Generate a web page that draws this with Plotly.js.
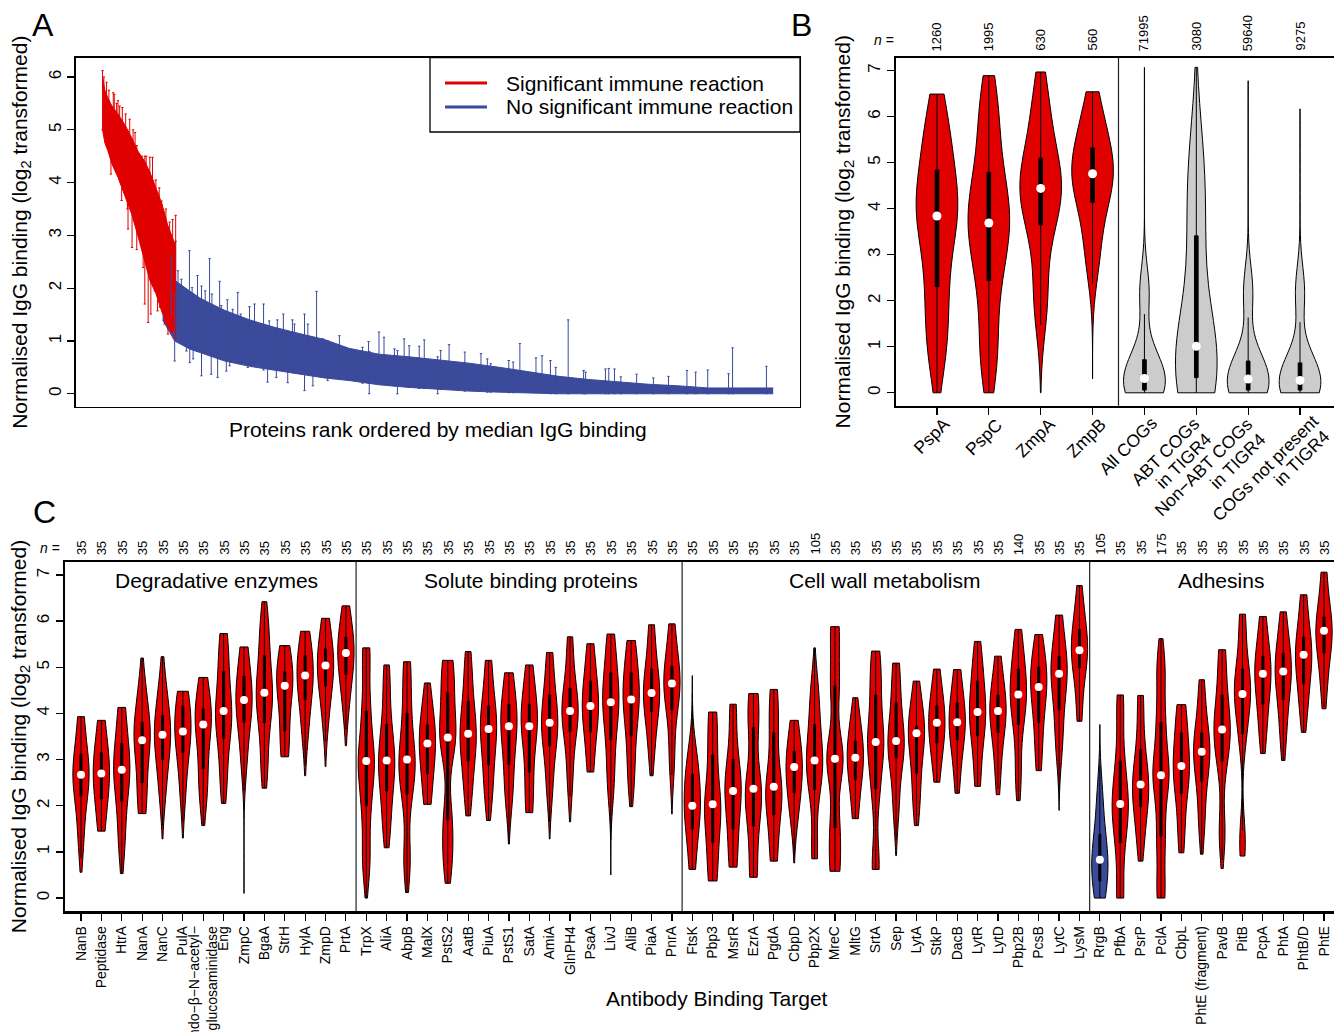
<!DOCTYPE html>
<html>
<head>
<meta charset="utf-8">
<script src="https://cdn.plot.ly/plotly-3.0.1.min.js"></script>
<style>html,body{margin:0;padding:0;overflow:hidden;background:#fff}</style>
</head>
<body>
<div id="chart" style="width:1342px;height:1032px"></div>
<script>
// ---------------- Panel A data (rank-ordered proteins) ----------------
const redRank = [1, 8, 17, 29, 47, 67, 88, 106, 127, 142, 160, 178, 195, 207, 219];
const redHi   = [6.0, 5.75, 5.6, 5.45, 5.3, 5.1, 4.85, 4.6, 4.4, 4.2, 3.9, 3.6, 3.2, 3.0, 2.8];
const redLo   = [5.0, 4.75, 4.6, 4.35, 4.1, 3.75, 3.4, 3.0, 2.5, 2.15, 1.9, 1.55, 1.3, 1.15, 1.2];

const blueRank = [180, 216, 260, 290, 320, 365, 439, 513, 588, 662, 736, 825, 915, 1004, 1093, 1185, 1272, 1361, 1451, 1540, 1629, 1718, 1807, 1896, 2000];
const blueHi   = [2.5, 2.15, 1.95, 1.82, 1.72, 1.58, 1.4, 1.26, 1.14, 1.03, 0.86, 0.75, 0.7, 0.64, 0.58, 0.5, 0.42, 0.33, 0.27, 0.22, 0.18, 0.15, 0.11, 0.11, 0.11];
const blueLo   = [1.4, 1.0, 0.85, 0.78, 0.72, 0.62, 0.52, 0.45, 0.38, 0.3, 0.25, 0.17, 0.12, 0.08, 0.05, 0.03, 0.01, 0, 0, 0, 0, 0, 0, 0, 0];

const redSpikeRank = [1, 5, 13, 20, 26, 33, 36, 43, 47, 52, 58, 60, 70, 75, 77, 82, 89, 92, 98, 103, 112, 118, 122, 127, 131, 137, 142, 145, 150, 152, 157, 160, 165, 170, 172, 177, 183, 186, 190, 196, 201, 210, 219];
const redSpikeLo   = [5.0, 5.0, 5.3, 4.8, 4.16, 4.6, 5.0, 4.22, 4.6, 4.4, 3.66, 4.7, 4.1, 3.5, 3.12, 3.9, 2.77, 4.2, 3.5, 2.73, 3.08, 3.2, 2.39, 1.70, 2.9, 1.35, 2.6, 1.51, 2.5, 2.4, 1.95, 2.3, 1.57, 2.0, 1.64, 2.0, 1.6, 1.32, 1.8, 1.13, 1.5, 1.4, 1.05];
const redSpikeHi   = [6.12, 6.0, 5.9, 5.75, 5.4, 5.7, 5.67, 5.5, 5.55, 5.45, 5.1, 5.42, 5.3, 5.0, 4.9, 5.2, 4.6, 5.0, 4.95, 4.7, 4.5, 4.5, 4.3, 4.5, 4.5, 4.2, 4.48, 4.1, 4.48, 4.03, 3.9, 4.05, 3.8, 3.9, 3.6, 3.65, 3.45, 3.3, 3.5, 3.0, 3.25, 3.3, 3.38];

const blueSpikeRank = [206, 216, 219, 226, 236, 251, 260, 261, 268, 271, 284, 296, 307, 320, 325, 327, 344, 350, 355, 370, 373, 380, 389, 404, 413, 434, 439, 454, 481, 493, 498, 519, 522, 540, 553, 567, 573, 603, 613, 628, 639, 657, 672, 687, 707, 776, 794, 796, 825, 840, 871, 880, 900, 915, 945, 960, 1000, 1009, 1034, 1081, 1129, 1148, 1158, 1212, 1225, 1245, 1293, 1311, 1336, 1352, 1389, 1435, 1441, 1500, 1510, 1527, 1546, 1593, 1643, 1688, 1743, 1769, 1805, 1867, 1879, 1980];
const blueSpikeLo   = [1.5, 0.62, 1.1, 1.2, 1.1, 0.81, 0.9, 0.59, 1.0, 0.66, 0.8, 0.34, 0.9, 0.8, 0.37, 0.8, 0.31, 0.75, 0.7, 0.43, 0.7, 0.53, 0.7, 0.6, 0.6, 0.5, 0.55, 0.55, 0.45, 0.22, 0.5, 0.31, 0.45, 0.45, 0.21, 0.4, 0.4, 0.06, 0.4, 0.15, 0.35, 0.35, 0.25, 0.3, 0.3, 0.2, 0.2, 0.0, 0.2, 0.2, 0.15, 0.0, 0.15, 0.12, 0.1, 0.1, 0.0, 0.08, 0.1, 0.05, 0.05, 0.03, 0.03, 0.02, 0.02, 0.05, 0.02, 0.02, 0.0, 0.0, 0.0, 0.0, 0.0, 0.0, 0.0, 0.0, 0.0, 0.0, 0.0, 0.0, 0.0, 0.0, 0.0, 0.0, 0.0, 0.0];
const blueSpikeHi   = [2.61, 1.9, 2.89, 2.33, 2.17, 1.9, 2.71, 1.8, 2.01, 1.7, 2.24, 2.04, 1.95, 2.56, 1.6, 1.89, 1.5, 2.13, 1.67, 1.5, 1.78, 1.4, 1.60, 1.92, 1.51, 1.3, 1.65, 1.70, 1.7, 1.2, 1.38, 1.2, 1.4, 1.51, 1.1, 1.4, 1.32, 1.51, 1.32, 1.0, 1.94, 1.04, 1.0, 0.82, 1.1, 0.88, 0.99, 0.8, 1.17, 1.07, 0.85, 0.82, 1.04, 0.91, 0.90, 1.02, 0.7, 0.82, 0.93, 0.79, 0.76, 0.66, 0.57, 0.63, 0.6, 0.95, 0.68, 0.72, 0.63, 0.5, 1.40, 0.44, 0.41, 0.47, 0.48, 0.47, 0.32, 0.37, 0.30, 0.33, 0.44, 0.41, 0.45, 0.38, 0.87, 0.52];

const legendLabels = ['Significant immune reaction', 'No significant immune reaction'];

// ---------------- Panel B data ----------------
const bCats  = ['PspA', 'PspC', 'ZmpA', 'ZmpB', 'All COGs', 'ABT COGs<br>in TIGR4', 'Non−ABT COGs<br>in TIGR4', 'COGs not present<br>in TIGR4'];
const bN     = ['1260', '1995', '630', '560', '71995', '3080', '59640', '9275'];
const bMin   = [0, 0, 0, 0.30, 0, 0, 0, 0];
const bMax   = [6.49, 6.89, 6.97, 6.54, 7.07, 7.07, 6.78, 6.17];
const bQ1    = [2.31, 2.44, 3.65, 4.14, 0.06, 0.33, 0.06, 0.06];
const bMed   = [3.84, 3.69, 4.44, 4.76, 0.31, 1.01, 0.30, 0.27];
const bQ3    = [4.84, 4.79, 5.10, 5.32, 0.72, 3.41, 0.69, 0.65];
const bBodyLo = [1.0, 0.8, 2.0, 3.0, 0, 0, 0, 0];
const bBodyHi = [5.9, 6.2, 6.3, 6.1, 2.2, 5.0, 2.2, 2.2];
const bIsAntigen = [true, true, true, true, false, false, false, false];

// ---------------- Panel C data ----------------
const cGroups = ['Degradative enzymes', 'Solute binding proteins', 'Cell wall metabolism', 'Adhesins'];
const cGroupSizes = [14, 16, 20, 12];
const cCats = ['NanB','Peptidase','HtrA','NanA','NanC','PulA','endo−β−N−acetyl−<br>glucosaminidase','Eng','ZmpC','BgaA','StrH','HylA','ZmpD','PrtA',
  'TrpX','AliA','AbpB','MalX','PstS2','AatB','PiuA','PstS1','SatA','AmiA','GlnPH4','PsaA','LivJ','AliB','PiaA','PnrA',
  'FtsK','Pbp3','MsrR','EzrA','PgdA','CbpD','Pbp2X','MreC','MltG','SrtA','Sep','LytA','StkP','DacB','LytR','LytD','Pbp2B','PcsB','LytC','LysM',
  'RrgB','PfbA','PsrP','PclA','CbpL','PhtE (fragment)','PavB','PitB','PcpA','PhtA','PhtB/D','PhtE'];
const cN = ['35','35','35','35','35','35','35','35','35','35','35','35','35','35',
  '35','35','35','35','35','35','35','35','35','35','35','35','35','35','35','35',
  '35','35','35','35','35','35','105','35','35','35','35','35','35','35','35','35','140','35','35','35',
  '105','35','35','175','35','35','35','35','35','35','35','35'];
const cMin = [0.56,1.45,0.53,1.83,1.28,1.30,1.57,2.05,0.10,2.38,3.06,2.65,2.85,3.30,
  0.00,1.09,0.12,2.03,0.32,1.78,1.68,1.17,1.85,1.28,1.65,2.73,0.50,1.98,2.65,1.82,
  0.62,0.37,0.67,0.45,0.80,0.76,0.85,0.58,1.72,0.62,0.92,1.57,2.51,2.27,2.42,2.24,2.11,2.76,1.90,3.83,
  0.00,0.00,0.80,0.00,0.98,0.95,0.64,0.91,3.13,2.98,3.59,4.10];
const cMax = [3.93,3.85,4.13,5.20,5.23,4.48,4.78,5.73,5.44,6.42,5.47,5.78,6.06,6.33,
  5.42,5.05,5.12,4.66,5.15,5.34,5.15,4.88,5.05,5.32,5.66,5.51,5.72,5.58,5.92,5.94,
  4.82,4.03,4.20,4.43,4.52,3.85,5.42,5.88,4.34,5.35,5.09,4.70,4.96,4.95,5.56,5.24,5.82,5.71,6.13,6.77,
  3.76,4.40,4.39,5.62,4.19,4.73,5.38,6.15,6.10,6.20,6.57,7.06];
const cQ1 = [2.21,2.15,2.10,2.50,3.00,3.15,2.80,3.46,3.81,3.80,3.62,4.30,4.60,4.85,
  2.00,2.32,2.25,2.70,1.70,2.97,2.89,2.90,2.73,3.30,3.61,3.60,3.43,3.51,4.04,4.08,
  1.50,1.21,1.49,1.56,1.81,2.28,2.35,1.52,2.57,2.37,3.04,2.71,3.36,3.43,3.51,3.59,3.76,3.81,4.08,4.99,
  0.37,1.20,1.98,1.34,2.27,2.53,2.97,3.56,4.20,4.30,4.65,5.31];
const cMed = [2.67,2.70,2.78,3.42,3.54,3.61,3.76,4.05,4.29,4.45,4.60,4.82,5.04,5.31,
  2.97,2.98,3.00,3.35,3.48,3.56,3.66,3.72,3.72,3.80,4.05,4.16,4.24,4.30,4.44,4.65,
  2.00,2.03,2.32,2.37,2.41,2.84,2.98,3.02,3.04,3.38,3.40,3.57,3.80,3.81,4.03,4.05,4.41,4.57,4.86,5.37,
  0.83,2.04,2.46,2.66,2.86,3.17,3.65,4.42,4.86,4.91,5.27,5.79];
const cQ3 = [3.11,3.15,3.35,3.80,3.95,4.15,4.10,4.91,4.80,5.25,4.90,5.25,5.40,5.65,
  4.05,3.76,4.00,3.75,4.45,4.26,4.16,4.20,4.20,4.40,4.55,4.70,4.88,4.88,4.96,5.02,
  2.68,3.10,3.00,3.69,3.58,3.18,3.76,4.60,3.40,4.40,4.23,3.72,4.16,4.23,4.70,4.40,4.96,5.00,5.24,5.82,
  1.38,2.97,3.22,3.80,3.58,3.58,4.40,4.96,5.24,5.30,5.65,6.09];
const cBodyLo = [1.3,1.5,1.2,1.9,2.3,2.3,2.2,2.5,3.0,2.8,3.1,3.6,3.9,4.2,
  0.8,1.5,0.8,2.1,0.8,2.2,2.2,2.2,1.9,2.4,2.6,2.8,2.5,2.6,3.2,3.0,
  0.7,0.4,0.7,0.5,0.9,1.8,1.0,0.6,1.8,0.7,2.0,2.0,2.7,2.6,2.6,2.7,2.6,3.0,3.3,4.0,
  0.0,0.0,1.2,0.1,1.3,1.6,1.4,1.2,3.5,3.5,4.0,4.5];
const cBodyHi = [3.9,3.8,4.1,4.5,4.6,4.45,4.7,5.6,5.4,6.0,5.4,5.7,6.0,6.2,
  5.3,4.8,5.0,4.4,5.1,5.1,5.0,4.85,4.9,5.2,5.5,5.4,5.6,5.5,5.8,5.8,
  3.0,4.0,4.1,4.4,4.4,3.8,4.5,5.8,4.0,5.2,5.0,4.5,4.8,4.9,5.3,5.1,5.6,5.5,6.0,6.5,
  2.2,4.2,4.3,5.0,4.15,4.5,5.3,6.0,6.0,6.0,6.5,7.0];
const cSignificant = cCats.map(c => c !== 'RrgB');

// ---------------- styling / layout helpers ----------------
const W = 1342, H = 1032;
const fx = p => p / W;
const fy = p => 1 - p / H;
const FONT = 'Liberation Sans, Arial, Helvetica, sans-serif';
const RED = '#E10000', BLUE = '#3B4A9B', GREY = '#CCCCCC';
const YTITLE = 'Normalised IgG binding (log<sub>2</sub> transformed)';
const bBandwidth = [0.85, 0.85, 0.8, 0.7, 0.55, 1.2, 0.55, 0.55];
const cBandwidth = 0.55;
const bLabelLineEnds = [[[10, 421]], [[10.5, 421]], [[11.5, 421]], [[11, 421]], [[10, 420]],
  [[0, 421], [12.5, 436]], [[2, 421], [15, 436]], [[16, 418], [27, 433]]];

const traces = [];
function band(rank, lo, hi, color) {
  traces.push({x: rank, y: lo, mode: 'lines', line: {color: color, width: 1}, xaxis: 'x', yaxis: 'y', hoverinfo: 'skip', showlegend: false});
  traces.push({x: rank, y: hi, mode: 'lines', fill: 'tonexty', fillcolor: color, line: {color: color, width: 1}, xaxis: 'x', yaxis: 'y', hoverinfo: 'skip', showlegend: false});
}
function spikes(rank, lo, hi, color) {
  traces.push({x: rank, y: hi, mode: 'markers', marker: {size: 1, color: 'rgba(0,0,0,0)'},
    error_y: {type: 'data', symmetric: false, array: hi.map(() => 0), arrayminus: hi.map((h, i) => h - lo[i]), color: color, thickness: 1, width: 1.2},
    xaxis: 'x', yaxis: 'y', hoverinfo: 'skip', showlegend: false});
}
band(blueRank, blueLo, blueHi, BLUE);
band(redRank, redLo, redHi, RED);
spikes(blueSpikeRank, blueSpikeLo, blueSpikeHi, BLUE);
spikes(redSpikeRank, redSpikeLo, redSpikeHi, RED);

function violins(cats, mn, mx, q1, med, q3, bLo, bHi, colors, bw, xa, ya, boxW, dotSize) {
  const pos = cats.map((c, i) => i + 1);
  cats.forEach((c, i) => {
    traces.push({type: 'violin', x0: i + 1, y: [bLo[i], q1[i], med[i], med[i], q3[i], bHi[i]],
      spanmode: 'manual', span: [mn[i], mx[i]], scalemode: 'width', width: 0.8,
      bandwidth: Array.isArray(bw) ? bw[i] : bw,
      fillcolor: colors[i], line: {color: 'black', width: 1}, opacity: 1,
      points: false, box: {visible: false}, meanline: {visible: false},
      xaxis: xa, yaxis: ya, hoverinfo: 'skip', showlegend: false});
  });
  const lf = q1.map((v, i) => Math.max(mn[i], v - 1.5 * (q3[i] - v)));
  const uf = q3.map((v, i) => Math.min(mx[i], v + 1.5 * (v - q1[i])));
  traces.push({type: 'box', x: pos, q1: q1, median: med, q3: q3, lowerfence: lf, upperfence: uf,
    width: boxW, fillcolor: 'black', line: {color: 'black', width: 1}, whiskerwidth: 0, boxpoints: false,
    xaxis: xa, yaxis: ya, hoverinfo: 'skip', showlegend: false});
  traces.push({x: pos, y: med, mode: 'markers', marker: {color: 'white', size: dotSize, line: {width: 0}},
    xaxis: xa, yaxis: ya, hoverinfo: 'skip', showlegend: false});
}
violins(bCats, bMin, bMax, bQ1, bMed, bQ3, bBodyLo, bBodyHi, bIsAntigen.map(s => s ? RED : GREY), bBandwidth, 'x2', 'y2', 0.07, 9);
violins(cCats, cMin, cMax, cQ1, cMed, cQ3, cBodyLo, cBodyHi, cSignificant.map(s => s ? RED : BLUE), cBandwidth, 'x3', 'y3', 0.1, 8);

const base = {showgrid: false, zeroline: false, linecolor: 'black', showline: true, mirror: true, tickcolor: 'black', color: 'black'};
const layout = {
  width: W, height: H, margin: {l: 0, r: 0, t: 0, b: 0}, paper_bgcolor: 'white', plot_bgcolor: 'white',
  font: {family: FONT, color: 'black', size: 14}, showlegend: false, violinmode: 'overlay', boxmode: 'overlay',
  xaxis: Object.assign({}, base, {domain: [fx(75.7), fx(800)], range: [-79, 2080], type: 'linear', showticklabels: false, ticks: '', linewidth: 1.3, anchor: 'y',
    title: {text: 'Proteins rank ordered by median IgG binding', font: {size: 21}, standoff: 15}}),
  yaxis: Object.assign({}, base, {domain: [fy(406.7), fy(57.7)], range: [-0.245, 6.365], tickvals: [0,1,2,3,4,5,6], ticks: 'outside', ticklen: 7, tickwidth: 1.2,
    tickangle: -90, tickfont: {size: 17}, linewidth: 1.3, anchor: 'x', ticklabelstandoff: 0,
    title: {text: YTITLE, font: {size: 21}, standoff: 12}}),
  xaxis2: Object.assign({}, base, {domain: [fx(896), fx(1341)], range: [0.21, 8.79], type: 'linear', tickvals: bCats.map((c, i) => i + 1),
    showticklabels: false, ticks: 'outside', ticklen: 7, tickwidth: 1.2, linewidth: 2, anchor: 'y2'}),
  yaxis2: Object.assign({}, base, {domain: [fy(405.7), fy(57.7)], range: [-0.28, 7.28], tickvals: [0,1,2,3,4,5,6,7], ticks: 'outside', ticklen: 7, tickwidth: 1.2,
    tickangle: -90, tickfont: {size: 17}, linewidth: 2, anchor: 'x2', ticklabelstandoff: 0,
    title: {text: YTITLE, font: {size: 21}, standoff: 9}}),
  xaxis3: Object.assign({}, base, {domain: [fx(65), fx(1340)], range: [0.215, 62.785], type: 'linear', tickvals: cCats.map((c, i) => i + 1), ticktext: cCats,
    ticks: 'outside', ticklen: 7, tickwidth: 1.2, tickangle: -90, tickfont: {size: 14}, linewidth: 2.5, anchor: 'y3'}),
  yaxis3: Object.assign({}, base, {domain: [fy(911), fy(562)], range: [-0.28, 7.28], tickvals: [0,1,2,3,4,5,6,7], ticks: 'outside', ticklen: 7, tickwidth: 1.2,
    tickangle: -90, tickfont: {size: 17}, linewidth: 2.5, anchor: 'x3', ticklabelstandoff: 0,
    title: {text: YTITLE, font: {size: 21}, standoff: 2}}),
  shapes: [], annotations: []
};

bCats.forEach((c, i) => {
  c.split('<br>').forEach((line, k) => {
    const [dx, ey] = bLabelLineEnds[i][k];
    layout.annotations.push({xref: 'x2', yref: 'paper', x: i + 1, xshift: dx + 8, y: fy(ey - 8), xanchor: 'right', yanchor: 'top',
      textangle: -45, text: line, showarrow: false, font: {size: 17.5}, borderpad: 0});
  });
});

layout.annotations.push({xref: 'paper', yref: 'paper', x: fx(717), y: fy(998), xanchor: 'center', yanchor: 'middle', text: 'Antibody Binding Target', showarrow: false, font: {size: 21}});

layout.shapes.push({type: 'line', xref: 'x2', yref: 'y2 domain', x0: 4.5, x1: 4.5, y0: 0, y1: 1, line: {color: '#222', width: 1.2}});
let acc = 0;
cGroupSizes.slice(0, -1).forEach(s => { acc += s; layout.shapes.push({type: 'line', xref: 'x3', yref: 'y3 domain', x0: acc + 0.5, x1: acc + 0.5, y0: 0, y1: 1, line: {color: '#222', width: 1.2}}); });

layout.shapes.push({type: 'rect', xref: 'paper', yref: 'paper', x0: fx(430), x1: fx(800), y0: fy(132), y1: fy(57.7), line: {color: 'black', width: 1.3}, fillcolor: 'white'});
[RED, BLUE].forEach((col, i) => {
  const yy = fy(83 + 24 * i);
  layout.shapes.push({type: 'line', xref: 'paper', yref: 'paper', x0: fx(445), x1: fx(487), y0: yy, y1: yy, line: {color: col, width: 3}});
  layout.annotations.push({xref: 'paper', yref: 'paper', x: fx(504), y: yy, xanchor: 'left', yanchor: 'middle', text: legendLabels[i], showarrow: false, font: {size: 21}});
});

[['A', 43, 25], ['B', 801, 25], ['C', 44, 512]].forEach(([t, x, y]) => layout.annotations.push({xref: 'paper', yref: 'paper', x: fx(x), y: fy(y), xanchor: 'center', yanchor: 'middle', text: t, showarrow: false, font: {size: 32}}));

layout.annotations.push({xref: 'paper', yref: 'paper', x: fx(884), y: fy(40), xanchor: 'center', yanchor: 'middle', text: '<i>n</i> =', showarrow: false, font: {size: 14}});
bN.forEach((t, i) => layout.annotations.push({xref: 'x2', yref: 'paper', x: i + 1, y: fy(53), xanchor: 'center', yanchor: 'bottom', textangle: -90, text: t, showarrow: false, font: {size: 13}}));
layout.annotations.push({xref: 'paper', yref: 'paper', x: fx(50), y: fy(548), xanchor: 'center', yanchor: 'middle', text: '<i>n</i> =', showarrow: false, font: {size: 14}});
cN.forEach((t, i) => layout.annotations.push({xref: 'x3', yref: 'paper', x: i + 1, y: fy(557), xanchor: 'center', yanchor: 'bottom', textangle: -90, text: t, showarrow: false, font: {size: 13}}));

const groupCentres = [7.67, 23.08, 40.45, 56.94];
cGroups.forEach((g, i) => layout.annotations.push({xref: 'x3', yref: 'paper', x: groupCentres[i], y: fy(580), xanchor: 'center', yanchor: 'middle', text: g, showarrow: false, font: {size: 21}}));

Plotly.newPlot('chart', traces, layout, {staticPlot: true, displayModeBar: false});
</script>
</body>
</html>
